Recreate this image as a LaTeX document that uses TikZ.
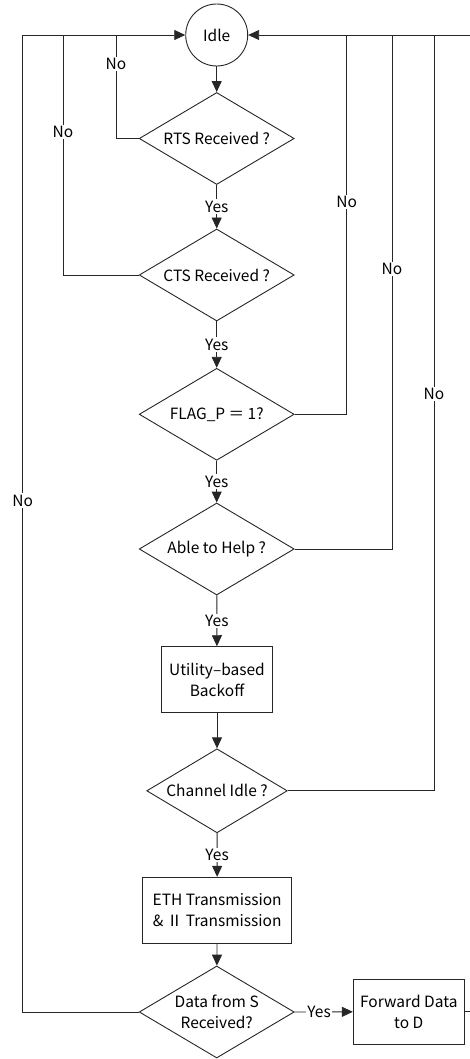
\documentclass[tikz,border=0pt]{standalone}
\usepackage{fontspec}
\setmainfont{Noto Sans CJK JP}
\usetikzlibrary{shapes.geometric,arrows.meta}

\begin{document}
\begin{tikzpicture}[x=1pt,y=-1pt,
  every node/.style={font=\fontsize{15.5}{20.5}\selectfont},
  link/.style={line width=0.9pt, draw=black!85},
  >={Triangle[length=11pt,width=10pt]},
  state/.style={circle, draw=black!85, line width=0.9pt, inner sep=0pt, minimum size=62pt},
  decision/.style={diamond, draw=black!85, line width=0.9pt, inner sep=0pt, align=center,
    aspect=1.68, minimum width=155pt, minimum height=92pt},
  process/.style={rectangle, draw=black!85, line width=0.9pt, inner sep=0pt, align=center},
  lbl/.style={fill=white, inner sep=1.5pt}]
\useasboundingbox (0,0) rectangle (470,1059);

% states and decisions
\node[state] (idle) at (216.7,35) {Idle};
\node[decision] (rts) at (216.7,138.5) {RTS Received ?};
\node[decision] (cts) at (216.7,275) {CTS Received ?};
\node[decision] (flag) at (216.7,414.3) {FLAG\_P ＝ 1?};
\node[decision] (able) at (216.7,549) {Able to Help ?};
\node[process, minimum width=111.4pt, minimum height=66pt] (util) at (217,679.7) {Utility–based\\Backoff};
\node[decision, minimum width=140.6pt, minimum height=84pt] (chan) at (217,790.8) {Channel Idle ?};
\node[process, minimum width=149pt, minimum height=66pt] (eth) at (217.2,910.3) {ETH Transmission\\\& Ⅱ Transmission};
\node[decision] (data) at (216.7,1012) {Data from S\\Received?};
\node[process, minimum width=111pt, minimum height=65.6pt] (fwd) at (408.8,1011.8) {Forward Data\\to D};

% corners of the return loops on the top line
\coordinate (lA) at (22.7,35);
\coordinate (lB) at (63,35);
\coordinate (lC) at (116,35);
\coordinate (rA) at (346.7,35);
\coordinate (rB) at (392,35);
\coordinate (rC) at (434,35);
\coordinate (rD) at (471,35);

% main flow
\draw[link,->] (idle) -- (rts);
\draw[link,->] (rts) -- node[lbl]{Yes} (cts);
\draw[link,->] (cts) -- node[lbl]{Yes} (flag);
\draw[link,->] (flag) -- node[lbl]{Yes} (able);
\draw[link,->] (able) -- node[lbl]{Yes} (util);
\draw[link,->] (util) -- (chan);
\draw[link,->] (chan) -- node[lbl]{Yes} (eth);
\draw[link,->] (eth) -- (data);
\draw[link,->] (data.east) -- node[lbl,pos=0.42,inner sep=1pt]{Yes} (fwd.west);

% "No" branches back to Idle
\draw[link,->] (data.west) -| (lA) -- (idle.west);
\draw[link] (cts.west) -| (lB);
\draw[link] (rts.west) -| (lC);
\draw[link,->] (fwd.east) -| (rD) -- (idle.east);
\draw[link] (flag.east) -| (rA);
\draw[link] (able.east) -| (rB);
\draw[link] (chan.east) -| (rC);

\node[lbl] (noA) at (22.7,500.7) {No};
\node[lbl] (noB) at (63,132) {No};
\node[lbl] (noC) at (116,64) {No};
\node[lbl] (noD) at (346.7,202) {No};
\node[lbl] (noE) at (392,269) {No};
\node[lbl] (noF) at (434,394) {No};
\end{tikzpicture}
\end{document}
